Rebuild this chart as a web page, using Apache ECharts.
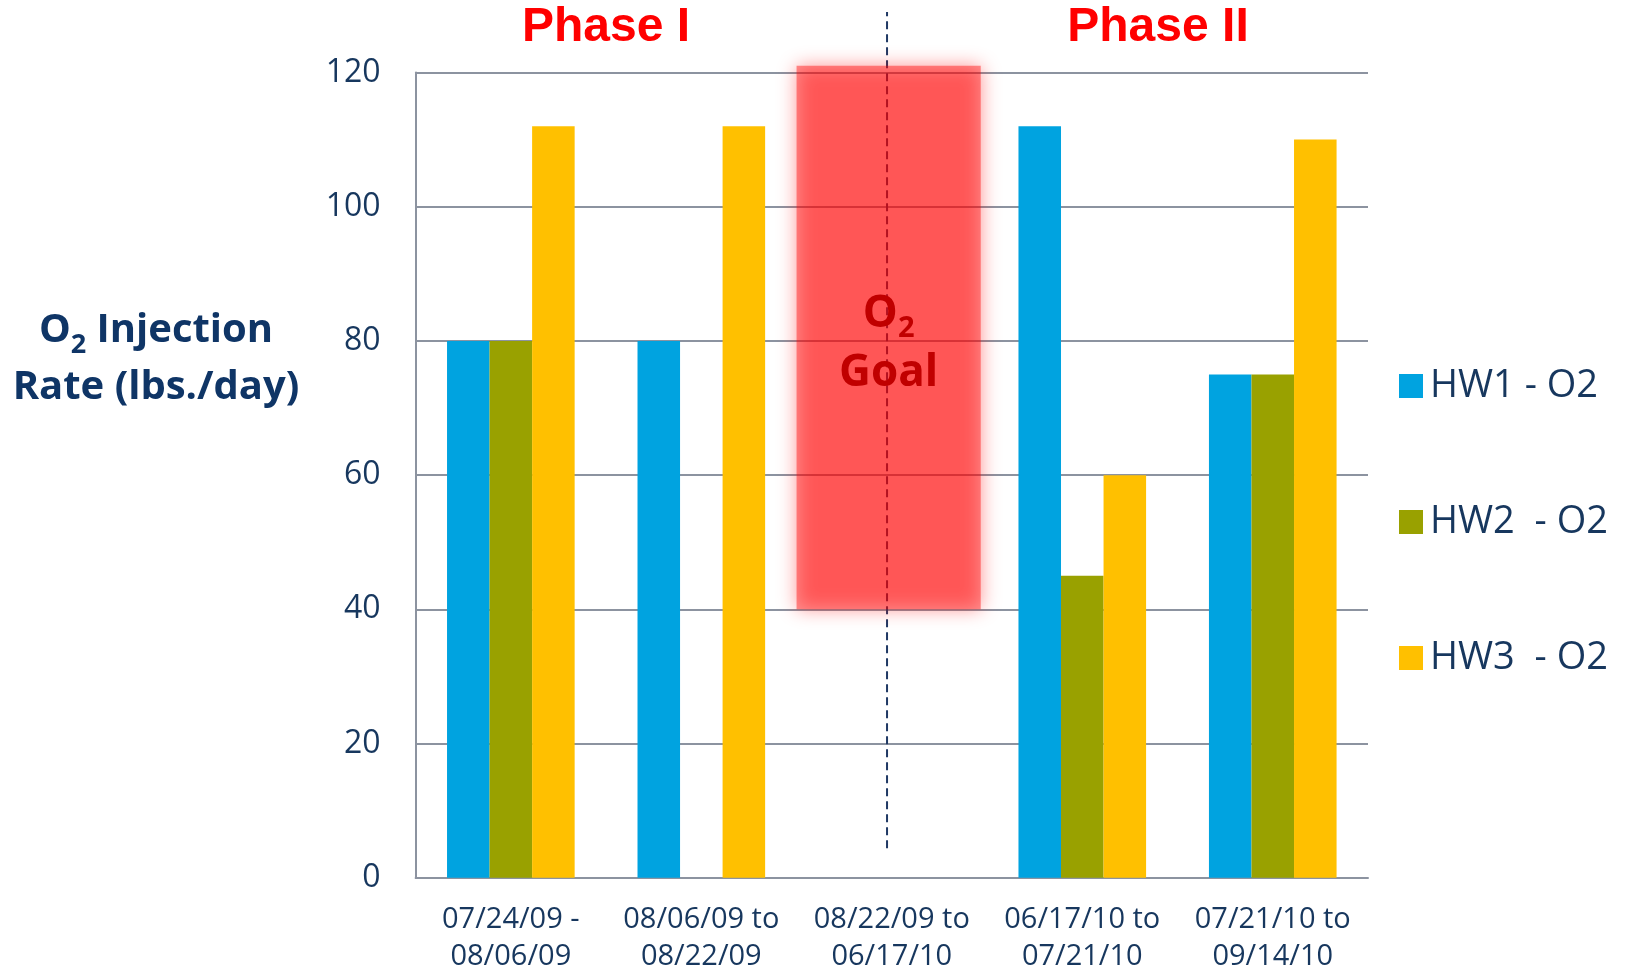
<!DOCTYPE html>
<html>
<head>
<meta charset="utf-8">
<script src="https://cdn.jsdelivr.net/npm/echarts@6/dist/echarts.min.js"></script>
<style>
html,body{margin:0;padding:0;background:#fff;}
#chart{width:1625px;height:972px;}
</style>
</head>
<body>
<div id="chart"></div>
<script>
const categories = ['07/24/09 -\n08/06/09', '08/06/09 to\n08/22/09', '08/22/09 to\n06/17/10', '06/17/10 to\n07/21/10', '07/21/10 to\n09/14/10'];
const seriesNames = ['HW1 - O2', 'HW2  - O2', 'HW3  - O2'];
const hw1 = [80, 80, null, 112, 75];
const hw2 = [80, null, null, 45, 75];
const hw3 = [112, 112, null, 60, 110];
const yTicks = [0, 20, 40, 60, 80, 100, 120];
// goal box in (category-position, value) coordinates
const goalBoxX = [2.0, 2.967];
const goalBoxY = [40, 121];
// phase divider in (category-position, value) coordinates
const dividerX = [2.475];
const dividerY = [4.4, 129];

const colors = ['#00A3E0', '#99A100', '#FFC000'];
const navy = '#17375E';
const font = 'Open Sans';

const chart = echarts.init(document.getElementById('chart'));
const option = {
  animation: false,
  backgroundColor: '#ffffff',
  textStyle: {fontFamily: font},
  grid: {left: 415.6, right: 257, top: 72.5, bottom: 94.2, containLabel: false, outerBoundsMode: 'none'},
  legend: {
    orient: 'vertical',
    left: 1394,
    top: 362,
    icon: 'rect',
    itemWidth: 24,
    itemHeight: 24,
    itemGap: 98,
    data: seriesNames,
    textStyle: {fontFamily: font, fontSize: 38, color: navy, lineHeight: 38, padding: [0, 0, 0, 2]}
  },
  xAxis: [{
    type: 'category',
    data: categories,
    axisLine: {show: true, lineStyle: {color: '#8C93A0', width: 2}},
    axisTick: {show: false},
    axisLabel: {fontFamily: font, fontSize: 29, color: navy, lineHeight: 37, margin: 23, interval: 0}
  }, {
    type: 'value',
    min: 0,
    max: 5,
    show: false
  }],
  yAxis: {
    type: 'value',
    min: yTicks[0],
    max: yTicks[yTicks.length - 1],
    interval: 20,
    axisLine: {show: true, lineStyle: {color: '#8C93A0', width: 2}},
    axisTick: {show: false},
    splitLine: {lineStyle: {color: '#8C93A0', width: 2}},
    axisLabel: {fontFamily: font, fontSize: 32, color: navy, margin: 35}
  },
  graphic: [
    {type: 'text', style: {text: 'Phase I', x: 606, y: 28, align: 'center', verticalAlign: 'middle', font: 'bold 48px "Liberation Sans"', fill: '#FF0000'}},
    {type: 'text', style: {text: 'Phase II', x: 1158, y: 28, align: 'center', verticalAlign: 'middle', font: 'bold 48px "Liberation Sans"', fill: '#FF0000'}},
    {type: 'text', style: {
      text: '{b|O}{s|2}{b| Injection}\n{b|Rate (lbs./day)}',
      x: 156, y: 359, align: 'center', verticalAlign: 'middle',
      rich: {
        b: {fontFamily: font, fontWeight: 'bold', fontSize: 40, fill: '#0F3566', lineHeight: 57},
        s: {fontFamily: font, fontWeight: 'bold', fontSize: 27, fill: '#0F3566', lineHeight: 57, verticalAlign: 'bottom', padding: [18, 0, 0, 0]}
      }
    }}
  ],
  series: [
    {name: seriesNames[0], type: 'bar', data: hw1, itemStyle: {color: colors[0]}, barGap: '0%', barCategoryGap: '33%'},
    {name: seriesNames[1], type: 'bar', data: hw2, itemStyle: {color: colors[1]}, barGap: '0%', barCategoryGap: '33%'},
    {name: seriesNames[2], type: 'bar', data: hw3, itemStyle: {color: colors[2]}, barGap: '0%', barCategoryGap: '33%'},
    {
      type: 'custom',
      xAxisIndex: 1,
      z: 10,
      clip: false,
      data: [[dividerX[0], dividerY[0], dividerX[0], dividerY[1]]],
      renderItem: function (params, api) {
        const p1 = api.coord([api.value(0), api.value(1)]);
        const p2 = api.coord([api.value(2), api.value(3)]);
        return {type: 'line', shape: {x1: p1[0], y1: p1[1], x2: p2[0], y2: p2[1]},
          style: {stroke: '#1F3864', lineWidth: 2, lineDash: [8, 5]}};
      }
    },
    {
      type: 'custom',
      xAxisIndex: 1,
      z: 20,
      clip: false,
      data: [[goalBoxX[0], goalBoxY[0], goalBoxX[1], goalBoxY[1]]],
      renderItem: function (params, api) {
        const p1 = api.coord([api.value(0), api.value(3)]);
        const p2 = api.coord([api.value(2), api.value(1)]);
        return {
          type: 'group',
          children: [
            {type: 'rect', shape: {x: p1[0], y: p1[1], width: p2[0] - p1[0], height: p2[1] - p1[1]},
              style: {fill: 'rgba(255,0,0,0.42)', shadowBlur: 18, shadowColor: 'rgba(255,0,0,1)'}},
            {type: 'text', style: {
              x: (p1[0] + p2[0]) / 2, y: (p1[1] + p2[1]) / 2 + 6,
              align: 'center', verticalAlign: 'middle',
              text: '{b|O}{s|2}\n{b|Goal}',
              rich: {
                b: {fontFamily: font, fontWeight: 'bold', fontSize: 44, fill: '#C00000', lineHeight: 59},
                s: {fontFamily: font, fontWeight: 'bold', fontSize: 29, fill: '#C00000', lineHeight: 59, verticalAlign: 'bottom', padding: [18, 0, 0, 0]}
              }
            }}
          ]
        };
      }
    }
  ]
};
chart.setOption(option);
</script>
</body>
</html>
